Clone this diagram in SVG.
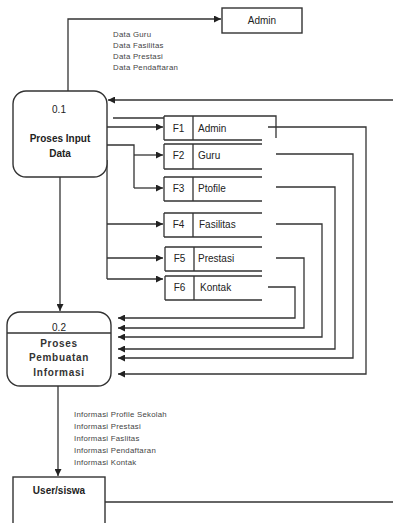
<svg xmlns="http://www.w3.org/2000/svg" width="393" height="523" viewBox="0 0 393 523">
<defs>
<marker id="ah" viewBox="0 0 8 8" refX="8" refY="4" markerWidth="7" markerHeight="7" markerUnits="userSpaceOnUse" orient="auto">
<path d="M0,0 L8,4 L0,8 z" fill="#222"/>
</marker>
<style>
.ln{fill:none;stroke:#333;stroke-width:1.3}
.ar{fill:none;stroke:#333;stroke-width:1.3;marker-end:url(#ah)}
.bx{fill:#fff;stroke:#333;stroke-width:1.4}
.t{font-family:"Liberation Sans",Arial,sans-serif;font-size:10px;fill:#222}
.tb{font-family:"Liberation Sans",Arial,sans-serif;font-size:10px;font-weight:bold;fill:#222}
.tc{font-family:"Liberation Sans",Arial,sans-serif;font-size:10px;font-weight:bold;fill:#333;letter-spacing:0.7px}
.sm{font-family:"Liberation Sans",Arial,sans-serif;font-size:7.8px;fill:#444;letter-spacing:0.25px}
</style>
</defs>
<rect width="393" height="523" fill="#fff"/>

<g id="connectors">
<path class="ar" d="M68,91 V19 H221"/>
<path class="ar" d="M393,100 H108"/>
<path class="ln" d="M113,118 H164"/>
<path class="ar" d="M107,127 H163"/>
<path class="ln" d="M107,145 H134 V188"/>
<path class="ar" d="M134,155 H163"/>
<path class="ar" d="M134,188 H163"/>
<path class="ln" d="M107,160 V279"/>
<path class="ar" d="M107,224 H163"/>
<path class="ar" d="M107,258 H163"/>
<path class="ar" d="M107,279 H163"/>
<path class="ar" d="M60,177 V311"/>
<path class="ar" d="M58,386 V476"/>
<path class="ar" d="M268,127 H366 V374 H118"/>
<path class="ar" d="M276,154 H353 V358 H118"/>
<path class="ar" d="M276,187 H335 V349 H118"/>
<path class="ar" d="M276,224 H322 V337 H118"/>
<path class="ar" d="M276,258 H304 V328 H118"/>
<path class="ar" d="M268,287 H295 V318 H118"/>
<path class="ln" d="M393,502 H105"/>
<g class="sm">
<text x="113" y="36.5">Data Guru</text>
<text x="113" y="47.5">Data Fasilitas</text>
<text x="113" y="58.5">Data Prestasi</text>
<text x="113" y="69.5">Data Pendaftaran</text>
<text x="74" y="416.5">Informasi Profile Sekolah</text>
<text x="74" y="428.5">Informasi Prestasi</text>
<text x="74" y="440.5">Informasi Faslitas</text>
<text x="74" y="452.5">Informasi Pendaftaran</text>
<text x="74" y="464.5">Informasi Kontak</text>
</g>
</g>

<g id="admin">
<rect class="bx" x="222" y="8" width="80" height="25"/>
<text class="t" x="262" y="24" text-anchor="middle">Admin</text>
</g>

<g id="p01">
<rect class="bx" x="13" y="91" width="94" height="86" rx="13"/>
<text class="t" x="59" y="113" text-anchor="middle">0.1</text>
<text class="tb" x="60" y="142" text-anchor="middle">Proses Input</text>
<text class="tb" x="60" y="157" text-anchor="middle">Data</text>
</g>

<g id="f1">
<path class="ln" d="M164,116 V140 M193,116 V140 M164,116 H276 V138 M164,140 H262"/>
<text class="t" x="178.5" y="131.5" text-anchor="middle">F1</text>
<text class="t" x="198" y="131.5">Admin</text>
</g>
<g id="f2">
<path class="ln" d="M164,144 V169 M193,144 V169 M164,144 H262 M164,169 H262"/>
<text class="t" x="178.5" y="158.5" text-anchor="middle">F2</text>
<text class="t" x="198" y="158.5">Guru</text>
</g>
<g id="f3">
<path class="ln" d="M164,177 V201 M193,177 V201 M164,177 H262 M164,201 H262"/>
<text class="t" x="178.5" y="191.5" text-anchor="middle">F3</text>
<text class="t" x="198" y="191.5">Ptofile</text>
</g>
<g id="f4">
<path class="ln" d="M164,213 V237 M193,213 V237 M164,213 H262 M164,237 H262"/>
<text class="t" x="178.5" y="227.5" text-anchor="middle">F4</text>
<text class="t" x="199" y="227.5">Fasilitas</text>
</g>
<g id="f5">
<path class="ln" d="M165,247 V271 M194,247 V271 M165,247 H262 M165,271 H262"/>
<text class="t" x="179.5" y="261.5" text-anchor="middle">F5</text>
<text class="t" x="198" y="261.5">Prestasi</text>
</g>
<g id="f6">
<path class="ln" d="M165,276 V300 M194,276 V300 M165,276 H262 M165,300 H262"/>
<text class="t" x="179.5" y="290.5" text-anchor="middle">F6</text>
<text class="t" x="200" y="290.5">Kontak</text>
</g>

<g id="p02">
<rect class="bx" x="7" y="312" width="104" height="74" rx="13"/>
<path class="ln" d="M7,333 H111"/>
<text class="t" x="59" y="330.5" text-anchor="middle" fill="#333">0.2</text>
<text class="tc" x="59" y="346.5" text-anchor="middle">Proses</text>
<text class="tc" x="59" y="361" text-anchor="middle">Pembuatan</text>
<text class="tc" x="59" y="376" text-anchor="middle">Informasi</text>
</g>

<g id="user">
<rect class="bx" x="13" y="477" width="92" height="60"/>
<text class="tb" x="59" y="493.5" text-anchor="middle">User/siswa</text>
</g>
</svg>
